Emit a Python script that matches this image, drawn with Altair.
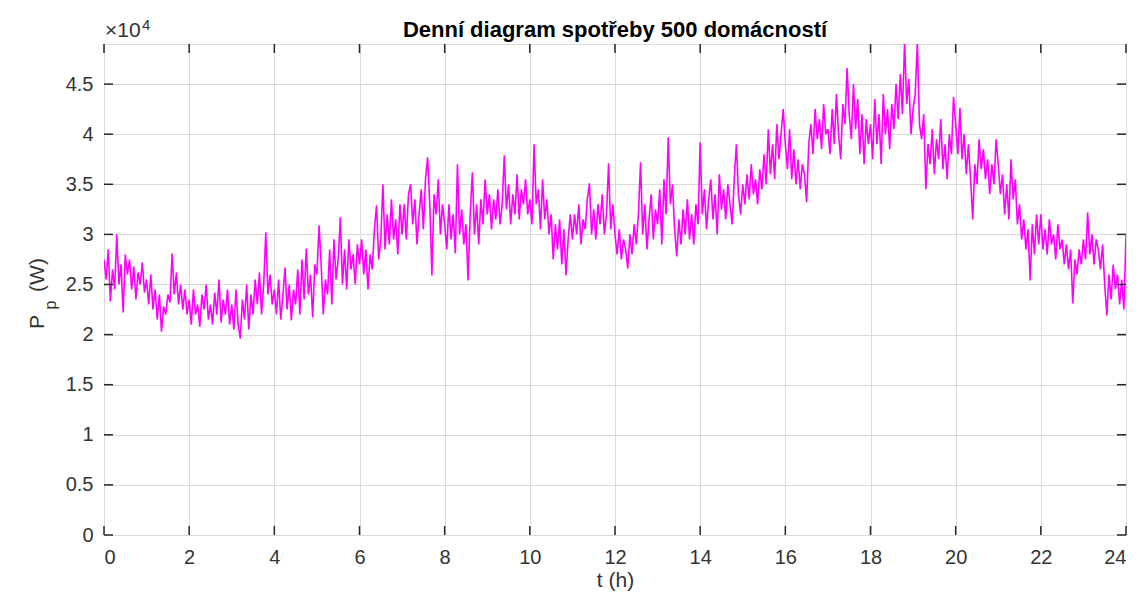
import altair as alt
import pandas as pd

# ---- data: household load (units of 10^4 W), one value every 3 minutes ----
STEP_H = 0.05
p_h00 = [2.75, 2.55, 2.85, 2.33, 2.65, 2.45, 3.0, 2.5, 2.7, 2.22, 2.8, 2.6, 2.75, 2.45, 2.68, 2.35, 2.62, 2.5, 2.72, 2.42]
p_h01 = [2.55, 2.3, 2.6, 2.25, 2.45, 2.15, 2.4, 2.03, 2.28, 2.2, 2.4, 2.32, 2.81, 2.4, 2.62, 2.3, 2.5, 2.25, 2.45, 2.2]
p_h02 = [2.35, 2.1, 2.45, 2.2, 2.3, 2.08, 2.4, 2.25, 2.5, 2.15, 2.3, 2.1, 2.42, 2.2, 2.55, 2.12, 2.35, 2.2, 2.45, 2.1]
p_h03 = [2.3, 2.05, 2.45, 2.1, 1.96, 2.35, 2.15, 2.5, 2.05, 2.4, 2.2, 2.55, 2.3, 2.62, 2.2, 2.5, 3.02, 2.4, 2.6, 2.3]
p_h04 = [2.45, 2.2, 2.55, 2.15, 2.38, 2.67, 2.25, 2.5, 2.14, 2.45, 2.3, 2.65, 2.2, 2.75, 2.35, 2.86, 2.4, 2.6, 2.17, 2.7]
p_h05 = [2.6, 3.09, 2.7, 2.2, 2.55, 2.4, 2.85, 2.3, 2.95, 2.55, 2.75, 3.17, 2.5, 2.85, 2.45, 2.95, 2.65, 2.8, 2.5, 2.9]
p_h06 = [2.7, 2.95, 2.6, 2.85, 2.45, 2.8, 2.65, 3.05, 3.29, 2.75, 2.95, 3.5, 2.85, 3.2, 2.9, 3.35, 2.95, 3.15, 2.8, 3.3]
p_h07 = [3.0, 3.3, 2.95, 3.4, 3.5, 3.1, 3.35, 2.9, 3.2, 3.45, 3.05, 3.55, 3.77, 3.3, 2.59, 3.4, 3.2, 3.55, 3.0, 3.3]
p_h08 = [3.1, 2.85, 3.3, 2.95, 3.2, 2.81, 3.7, 3.0, 3.25, 2.9, 3.1, 2.54, 3.2, 3.62, 3.0, 3.3, 2.9, 3.35, 3.1, 3.55]
p_h09 = [3.2, 3.4, 3.05, 3.35, 3.15, 3.45, 3.1, 3.3, 3.79, 3.25, 3.5, 3.1, 3.4, 3.2, 3.6, 3.15, 3.45, 3.3, 3.55, 3.2]
p_h10 = [3.35, 3.1, 3.9, 3.3, 3.45, 3.05, 3.55, 3.15, 3.35, 3.0, 3.2, 2.75, 3.1, 2.85, 3.15, 2.7, 3.05, 2.59, 2.95, 3.2]
p_h11 = [2.95, 3.2, 3.0, 3.3, 2.9, 3.15, 3.05, 3.35, 3.51, 3.0, 3.25, 2.95, 3.3, 3.1, 3.4, 3.0, 3.2, 3.71, 3.05, 3.3]
p_h12 = [3.0, 2.8, 3.05, 2.75, 2.95, 2.85, 2.66, 3.0, 2.8, 3.1, 2.9, 3.2, 3.72, 3.0, 3.3, 2.85, 3.15, 3.4, 2.95, 3.25]
p_h13 = [3.1, 3.45, 2.9, 3.55, 3.2, 3.97, 3.3, 3.5, 3.05, 2.78, 3.15, 2.9, 3.25, 3.0, 3.35, 2.95, 3.2, 2.9, 3.3, 3.1]
p_h14 = [3.92, 3.2, 3.45, 3.05, 3.35, 3.55, 3.15, 3.4, 3.0, 3.6, 3.25, 3.45, 3.15, 3.5, 3.3, 3.1, 3.55, 3.9, 3.4, 3.2]
p_h15 = [3.5, 3.3, 3.6, 3.35, 3.7, 3.4, 3.55, 3.3, 3.65, 3.45, 3.8, 3.5, 4.05, 3.6, 3.9, 3.55, 4.1, 3.75, 4.0, 4.25]
p_h16 = [3.9, 3.65, 4.05, 3.55, 3.85, 3.5, 3.75, 3.45, 3.7, 3.6, 3.32, 3.9, 4.1, 3.8, 4.25, 3.95, 4.15, 3.85, 4.3, 4.0]
p_h17 = [4.05, 3.8, 4.25, 3.9, 4.4, 4.0, 3.75, 4.3, 4.1, 4.66, 4.2, 3.95, 4.5, 4.05, 4.35, 3.8, 4.2, 3.7, 4.15, 3.9]
p_h18 = [4.1, 3.75, 4.35, 3.9, 4.2, 3.7, 4.4, 4.0, 4.25, 3.85, 4.3, 4.05, 4.5, 4.15, 4.6, 4.2, 4.92, 4.3, 4.55, 4.0]
p_h19 = [4.25, 4.4, 4.92, 4.1, 3.95, 4.2, 3.45, 3.9, 3.7, 4.05, 3.6, 3.95, 3.75, 4.15, 3.65, 3.9, 3.55, 4.0, 3.8, 4.37]
p_h20 = [4.1, 3.8, 4.26, 3.75, 4.0, 3.6, 3.9, 3.55, 3.15, 3.7, 3.5, 3.95, 3.65, 3.85, 3.55, 3.75, 3.4, 3.7, 3.5, 3.95]
p_h21 = [3.7, 3.4, 3.6, 3.2, 3.5, 3.15, 3.75, 3.35, 3.55, 3.1, 3.3, 2.95, 3.15, 2.85, 3.05, 2.54, 3.1, 2.8, 3.2, 2.9]
p_h22 = [3.2, 2.85, 3.05, 2.8, 3.15, 2.9, 3.0, 2.75, 3.1, 2.85, 2.95, 2.7, 2.9, 2.65, 2.85, 2.31, 2.75, 2.6, 2.85, 2.7]
p_h23 = [2.95, 2.75, 3.22, 2.8, 3.0, 2.7, 2.95, 2.85, 2.65, 2.9, 2.5, 2.19, 2.6, 2.35, 2.7, 2.45, 2.6, 2.3, 2.55, 2.25]
p_end = [2.99]

x_ticks = [0, 2, 4, 6, 8, 10, 12, 14, 16, 18, 20, 22, 24]
y_ticks = [0, 0.5, 1, 1.5, 2, 2.5, 3, 3.5, 4, 4.5]
Y_MAX = 4.9

TITLE = "Denní diagram spotřeby 500 domácností"
X_TITLE = "t (h)"

series = (p_h00 + p_h01 + p_h02 + p_h03 + p_h04 + p_h05 + p_h06 + p_h07 + p_h08 + p_h09 +
          p_h10 + p_h11 + p_h12 + p_h13 + p_h14 + p_h15 + p_h16 + p_h17 + p_h18 + p_h19 +
          p_h20 + p_h21 + p_h22 + p_h23 + p_end)
df = pd.DataFrame({"t": [round(i * STEP_H, 3) for i in range(len(series))], "P": series})
xt = pd.DataFrame({"t": x_ticks})
yt = pd.DataFrame({"P": y_ticks})

W, H = 1022, 491
FONT = "Liberation Sans"
BOX = "#262626"
TXT = "#333333"

xs = alt.Scale(domain=[0, 24], nice=False, zero=False)
ys = alt.Scale(domain=[0, Y_MAX], nice=False, zero=False)

line = alt.Chart(df).mark_line(color="#ff00ff", strokeWidth=1.6, clip=True).encode(
    x=alt.X("t:Q", scale=xs, axis=alt.Axis(
        values=x_ticks, title=X_TITLE, format="~g", grid=True, gridColor="#dadada", gridWidth=1,
        ticks=False, domain=False, labelFont=FONT, labelFontSize=20, labelColor=TXT,
        labelPadding=12, titleFont=FONT, titleFontSize=21, titleFontWeight="normal",
        titleColor=TXT, titlePadding=2)),
    y=alt.Y("P:Q", scale=ys, axis=alt.Axis(
        values=y_ticks, title=None, format="~g", grid=True, gridColor="#dadada", gridWidth=1,
        ticks=False, domain=False, labelFont=FONT, labelFontSize=20, labelColor=TXT,
        labelPadding=11)),
)

tk = dict(color=BOX, strokeWidth=1.5)
bottom_ticks = alt.Chart(xt).mark_rule(**tk).encode(
    x=alt.X("t:Q", scale=xs), y=alt.value(H), y2=alt.value(H - 9))
top_ticks = alt.Chart(xt).mark_rule(**tk).encode(
    x=alt.X("t:Q", scale=xs), y=alt.value(0), y2=alt.value(9))
left_ticks = alt.Chart(yt).mark_rule(**tk).encode(
    y=alt.Y("P:Q", scale=ys), x=alt.value(0), x2=alt.value(9))
right_ticks = alt.Chart(yt).mark_rule(**tk).encode(
    y=alt.Y("P:Q", scale=ys), x=alt.value(W - 9), x2=alt.value(W))

ann = pd.DataFrame({"t": [0], "P": [Y_MAX]})
exp_base = alt.Chart(ann).mark_text(
    text="×10", font=FONT, fontSize=21, color=TXT, align="left", baseline="alphabetic", dx=1, dy=-7
).encode(x=alt.X("t:Q", scale=xs), y=alt.Y("P:Q", scale=ys))
exp_sup = alt.Chart(ann).mark_text(
    text="4", font=FONT, fontSize=15, color=TXT, align="left", baseline="alphabetic", dx=38, dy=-14
).encode(x=alt.X("t:Q", scale=xs), y=alt.Y("P:Q", scale=ys))

title_txt = alt.Chart(ann).mark_text(
    text=TITLE, font=FONT, fontSize=22, fontWeight="bold", color="#000000",
    align="center", baseline="middle"
).encode(x=alt.value(W / 2), y=alt.value(-14))

yl_P = alt.Chart(ann).mark_text(
    text="P", font=FONT, fontSize=21, color=TXT, angle=270, align="center", baseline="middle"
).encode(x=alt.value(-66), y=alt.value(278))
yl_sub = alt.Chart(ann).mark_text(
    text="p", font=FONT, fontSize=16, color=TXT, angle=270, align="center", baseline="middle"
).encode(x=alt.value(-53), y=alt.value(261))
yl_W = alt.Chart(ann).mark_text(
    text="(W)", font=FONT, fontSize=21, color=TXT, angle=270, align="center", baseline="middle"
).encode(x=alt.value(-66), y=alt.value(231))

chart = alt.layer(
    line, bottom_ticks, top_ticks, left_ticks, right_ticks,
    exp_base, exp_sup, title_txt, yl_P, yl_sub, yl_W
).properties(
    width=W, height=H,
    autosize=alt.AutoSizeParams(type="none"),
    padding={"left": 96, "top": 36, "right": 9, "bottom": 60},
).configure_view(stroke=BOX, strokeWidth=1.5).configure(background="white")

chart.save("out.html", embed_options={"renderer": "svg", "actions": False})
